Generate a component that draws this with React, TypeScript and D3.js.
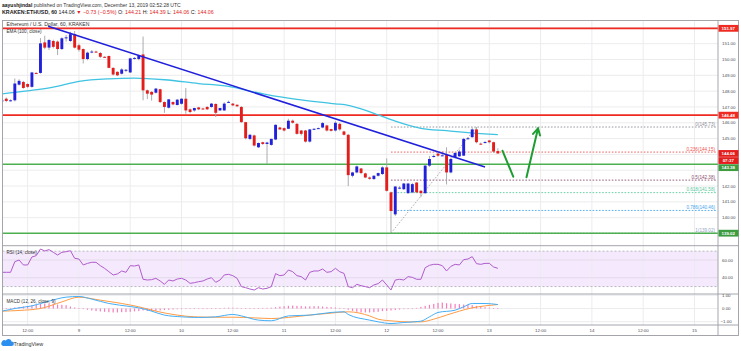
import React from "react";
import * as d3 from "d3";

// hourly ETHUSD bars, first bar = Dec 8 06:00 UTC (hour -18 relative to Dec 9 00:00)
const firstHour = -18;

const opens = [
  147.35, 147.52, 147.4, 147.42, 148.41, 148.58, 148.45, 148.27, 149.15, 149.15,
  151.08, 150.75, 151.17, 151.13, 150.66, 151.36, 151.17, 151.6, 150.9, 150.66,
  150.03, 150.48, 150.5, 150.41, 150.17, 150.22, 149.47, 149.22, 149.1, 149.3,
  149.18, 150.08, 150.03, 150.32, 148.05, 147.95, 147.9, 148.12, 147.31, 146.95,
  147.31, 147.12, 147.2, 147.52, 146.85, 146.78, 146.97, 146.9, 147.0, 147.0,
  147.19, 146.78, 146.78, 147.3, 147.21, 147.14, 147.0, 146.04, 144.98, 145.2,
  144.45, 144.77, 144.66, 144.6, 144.94, 145.7, 145.66, 145.62, 146.13, 145.93,
  145.51, 145.51, 144.81, 145.6, 145.64, 145.7, 145.83, 145.6, 145.51, 145.93,
  145.45, 145.24, 142.65, 142.86, 143.11, 142.8, 142.54, 142.44, 142.65, 142.76,
  143.18, 141.6, 140.21, 141.88, 141.8, 141.55, 141.6, 142.22, 141.7, 141.55,
  143.29, 143.85, 144.05, 143.92, 143.96, 142.86, 143.82, 143.88, 143.92, 145.0,
  145.09, 145.58, 144.68, 144.74, 144.88, 144.77, 144.21,
];
const highs = [
  147.5, 147.6, 147.48, 148.8, 148.75, 148.65, 148.5, 149.22, 149.2, 151.35,
  151.5, 151.3, 151.25, 151.2, 151.4, 151.55, 151.75, 151.8, 151.0, 150.7,
  150.5, 150.6, 150.55, 150.48, 150.2, 150.25, 149.5, 149.25, 149.45, 149.4,
  150.1, 150.15, 150.3, 151.45, 148.1, 148.0, 148.2, 148.15, 147.35, 147.5,
  147.35, 147.5, 147.55, 148.2, 146.9, 146.95, 147.0, 146.95, 147.05, 147.25,
  147.22, 146.95, 147.3, 147.4, 147.25, 147.15, 147.05, 146.05, 145.3, 145.25,
  144.75, 144.8, 144.8, 145.0, 145.9, 145.75, 145.7, 146.25, 146.2, 145.98,
  145.55, 145.55, 145.6, 145.65, 145.7, 146.05, 145.88, 145.62, 146.1, 146.0,
  145.5, 145.3, 142.9, 143.3, 143.15, 142.85, 142.6, 142.7, 142.85, 143.25,
  143.75, 141.65, 142.0, 142.0, 142.2, 142.2, 142.2, 142.25, 141.75, 143.35,
  143.9, 144.0, 144.1, 144.2, 144.45, 143.8, 144.15, 144.3, 145.05, 145.1,
  145.7, 145.73, 144.75, 144.85, 144.9, 144.8, 144.39,
];
const lows = [
  147.3, 147.3, 147.35, 147.35, 148.35, 148.15, 148.2, 148.22, 149.1, 149.1,
  150.65, 150.6, 150.7, 150.28, 150.6, 151.13, 151.1, 150.7, 150.5, 149.75,
  149.95, 150.4, 150.42, 150.1, 150.1, 149.45, 149.0, 148.95, 149.05, 149.2,
  149.15, 150.0, 149.95, 147.42, 147.5, 147.4, 147.85, 147.25, 146.63, 146.9,
  147.1, 147.1, 147.15, 146.57, 146.6, 146.7, 146.8, 146.85, 146.8, 146.95,
  146.36, 146.75, 146.75, 147.25, 147.05, 147.0, 146.0, 144.95, 144.9, 144.5,
  144.4, 144.6, 143.4, 144.55, 144.9, 145.55, 145.45, 145.6, 145.95, 145.25,
  145.2, 144.75, 144.75, 145.55, 145.6, 145.65, 145.45, 145.45, 145.45, 145.5,
  145.2, 142.0, 142.55, 142.8, 142.75, 142.5, 142.4, 142.4, 142.6, 142.7,
  141.65, 139.02, 140.1, 141.8, 141.75, 141.5, 141.55, 141.55, 141.3, 141.5,
  143.2, 143.8, 143.85, 143.9, 142.1, 142.8, 143.75, 143.85, 143.9, 144.95,
  145.05, 144.7, 144.6, 144.7, 144.7, 144.1, 144.06,
];
const closes = [
  147.42, 147.38, 147.42, 148.48, 148.65, 148.2, 148.27, 149.18, 149.12, 151.02,
  150.75, 151.23, 150.8, 150.66, 151.34, 151.4, 151.6, 150.75, 150.62, 150.03,
  150.43, 150.5, 150.48, 150.17, 150.15, 149.47, 149.05, 149.0, 149.37, 149.35,
  150.07, 150.1, 150.28, 148.05, 147.84, 147.78, 148.16, 147.31, 147.0, 147.48,
  147.16, 147.46, 147.52, 146.78, 146.68, 146.93, 146.85, 146.88, 146.85, 147.21,
  146.63, 146.93, 147.21, 147.32, 147.1, 147.04, 146.04, 145.02, 145.24, 144.56,
  144.72, 144.66, 144.75, 144.98, 145.87, 145.58, 145.51, 146.13, 146.0, 145.3,
  145.3, 144.81, 145.58, 145.62, 145.66, 145.98, 145.51, 145.49, 146.0, 145.58,
  145.24, 142.69, 142.86, 143.24, 142.82, 142.54, 142.46, 142.65, 142.82, 143.18,
  141.7, 140.42, 141.97, 141.9, 142.16, 142.16, 142.12, 141.6, 141.55, 143.29,
  143.71, 143.9, 143.92, 143.94, 142.86, 143.71, 144.09, 144.18, 144.98, 145.02,
  145.58, 144.77, 144.66, 144.78, 144.77, 144.18, 144.06,
];

const rsiValues = [
  46.1, 46.1, 46.1, 58.1, 60, 54.4, 54.4, 63.4, 64.9, 72.4,
  70.2, 71.7, 68.7, 65.6, 68.7, 69.4, 70.5, 61.9, 61.1, 54.4,
  56.2, 57.4, 57.4, 53.6, 50.6, 46.8, 43.1, 44.2, 47.6, 46.1,
  53.6, 53.2, 54.4, 38.2, 37.4, 37.8, 39.3, 36.3, 32.5, 37.4,
  36.3, 38.5, 39.3, 37.4, 33.6, 34.4, 35.5, 36.3, 38.5, 40,
  34.8, 37.4, 43.1, 43.8, 42.3, 39.3, 29.9, 28.7, 27.2, 26.1,
  28.7, 27.2, 28, 29.9, 44.6, 42.3, 43.1, 48.7, 46.8, 42.3,
  41.2, 37.4, 46.1, 47.6, 47.6, 49.8, 46.1, 46.8, 50.6, 46.8,
  44.9, 29.9, 28.7, 32.5, 31, 29.9, 28.7, 31.8, 33.3, 37.4,
  31.8, 26.1, 37.4, 38.2, 37.4, 41.2, 40.4, 38.2, 38.2, 51.3,
  54, 55.1, 55.1, 53.6, 47.6, 52.8, 55.1, 54.4, 60.4, 61.1,
  63.8, 55.9, 55.1, 56.2, 56.2, 52.1, 50.6,
];

const macdHist = [
  0, 0.02, 0.05, 0.08, 0.12, 0.15, 0.18, 0.25, 0.28, 0.35,
  0.38, 0.38, 0.36, 0.3, 0.28, 0.25, 0.15, 0.08, 0.02, -0.05,
  -0.1, -0.15, -0.2, -0.22, -0.25, -0.28, -0.3, -0.3, -0.28, -0.27,
  -0.25, -0.22, -0.2, -0.15, -0.18, -0.2, -0.18, -0.15, -0.12, -0.1,
  -0.08, -0.06, -0.05, -0.04, -0.03, -0.03, -0.02, -0.01, 0, 0.02,
  0.03, 0.04, 0.05, 0.06, 0.06, 0.05, 0.03, 0.02, 0.02, 0.03,
  0.04, 0.05, 0.05, 0.06, 0.1, 0.14, 0.17, 0.2, 0.22, 0.2,
  0.18, 0.16, 0.17, 0.18, 0.17, 0.15, 0.12, 0.1, 0.08, 0.05,
  0.02, -0.1, -0.18, -0.25, -0.3, -0.3, -0.3, -0.28, -0.25, -0.2,
  -0.18, -0.15, -0.12, -0.08, -0.05, -0.03, 0, 0.05, 0.12, 0.2,
  0.28, 0.35, 0.42, 0.45, 0.4, 0.38, 0.35, 0.33, 0.3, 0.28,
  0.25, 0.2, 0.15, 0.1, 0.06, 0.03, 0.01,
];

// EMA(100) read at a few hours
const emaHours = [-18, -12, -6, 0, 7, 13, 20, 28, 35, 40, 44, 51, 60, 63, 66, 70, 74, 80, 86, 91, 98];
const emaValues = [147.83, 148.02, 148.25, 148.62, 148.78, 148.82, 148.72, 148.48, 148.3, 148.0, 147.78, 147.48, 147.2, 147.1, 146.88, 146.5, 146.1, 145.65, 145.5, 145.38, 145.25];

const macdHours = [-18, -15, -11, -7, -3, 0, 3, 7, 12, 14, 17, 20, 24, 28, 32, 36, 38, 42, 45, 49, 54, 59, 62, 63, 68, 70, 73, 76, 80, 82, 84, 88, 90, 92, 95, 98];
const macdValues = [-0.2, 0, 0.2, 0.56, 0.86, 0.91, 0.71, 0.38, 0.15, 0.05, -0.2, -0.5, -0.63, -0.68, -0.63, -0.45, -0.56, -0.88, -0.93, -0.56, -0.5, -0.3, -0.25, -0.45, -0.88, -1.01, -1.14, -1.06, -0.96, -0.63, -0.3, -0.13, 0.13, 0.38, 0.38, 0.3];
const signalHours = [-18, -14, -9, -4, 0, 5, 10, 14, 18, 23, 27, 32, 36, 41, 45, 49, 54, 59, 63, 68, 70, 74, 77, 80, 83, 86, 89, 92, 95, 98];
const signalValues = [-0.2, -0.15, 0, 0.5, 0.86, 0.63, 0.38, 0.13, -0.2, -0.5, -0.63, -0.66, -0.66, -0.71, -0.76, -0.68, -0.5, -0.35, -0.25, -0.56, -0.81, -0.96, -1.01, -1.01, -0.81, -0.5, -0.2, 0.05, 0.2, 0.3];

// drawings
const trendHours = [-7.2, 95];
const trendPrices = [152.1, 143.2];
const resistanceLevels = [151.97, 146.48];
const supportLevels = [143.38, 139.02];
const fibHigh = 145.73;
const fibLow = 139.02;
const fibLowHour = 73;
const fibHighHour = 93;
const fibRatios = [0, 0.236, 0.5, 0.618, 0.786, 1];
const fibColors = ["#8d9099", "#ef5350", "#8a4b6c", "#52c99c", "#46a6ee", "#93a5bf"];
const arrowDownHours = [99.1, 101.6];
const arrowDownPrices = [144.23, 142.59];
const arrowUpHours = [104.7, 107.4];
const arrowUpPrices = [142.55, 145.65];

const priceLabels = [140, 141, 142, 145, 146, 147, 148, 149, 150, 151];
const rsiLabels = [60, 40];
const macdLabels = [1, 0, -1];
const lastPrice = 144.06;
const countdown = "07:37";

const HOUR = 3600000;
const dec9 = Date.UTC(2019, 11, 9);
const at = (h: number) => new Date(dec9 + h * HOUR);

const FONT = "Liberation Sans, Arial, sans-serif";
const UP = "#2121dc";
const DOWN = "#e31c1c";
const RED_LINE = "#ee2a22";
const GREEN_LINE = "#4caf50";
const FRAME = "#9a9ca3";
const GRID = "#ececee";
const TXT = "#4a4c52";

export default function App() {
  const L = 2.5, R = 718, AR = 738.5;
  const topY = 20.5, mainBot = 245.7, rsiBot = 294, macdBot = 325, botY = 335.5;

  const x = d3.scaleUtc().domain([at(-18), at(149.5)]).range([2, R]);
  const y = d3.scaleLinear().domain([139, 151]).range([233.5, 43.67]);
  const yRsi = d3.scaleLinear().domain([40, 60]).range([277.7, 260]);
  const yMacd = d3.scaleLinear().domain([-1, 1]).range([321.7, 295.3]);

  const bars = closes.map((c, i) => ({
    t: at(firstHour + i), o: opens[i], h: highs[i], l: lows[i], c,
    rsi: rsiValues[i], hist: macdHist[i],
  }));

  const timeTicks = d3.utcHour.every(12)!.range(at(-12), at(145));
  const tickLabel = (d: Date) => (d.getUTCHours() === 12 ? "12:00" : String(d.getUTCDate()));

  const ema = d3.line<number>().x((h) => x(at(h))).y((_, i) => y(emaValues[i])).curve(d3.curveMonotoneX)(emaHours)!;
  const rsiPath = d3.line<typeof bars[0]>().x((d) => x(d.t)).y((d) => yRsi(d.rsi))(bars)!;
  const macdPath = d3.line<number>().x((h) => x(at(h))).y((_, i) => yMacd(macdValues[i])).curve(d3.curveMonotoneX)(macdHours)!;
  const sigPath = d3.line<number>().x((h) => x(at(h))).y((_, i) => yMacd(signalValues[i])).curve(d3.curveMonotoneX)(signalHours)!;

  const bw = 2.9;

  // price axis badges, pushed down when they overlap
  const badgeH = 6.8;
  const rawBadges = [
    { y: y(resistanceLevels[0]), text: resistanceLevels[0].toFixed(2), fill: RED_LINE },
    { y: y(resistanceLevels[1]), text: resistanceLevels[1].toFixed(2), fill: RED_LINE },
    { y: y(lastPrice), text: lastPrice.toFixed(2), fill: DOWN },
    { y: y(lastPrice) + badgeH, text: countdown, fill: DOWN },
    { y: y(supportLevels[0]), text: supportLevels[0].toFixed(2), fill: "#3d9b40" },
    { y: y(supportLevels[1]), text: supportLevels[1].toFixed(2), fill: "#3d9b40" },
  ].sort((a, b) => a.y - b.y);
  const badges: typeof rawBadges = [];
  rawBadges.forEach((b) => {
    const prev = badges[badges.length - 1];
    const yy = prev && b.y < prev.y + badgeH + 0.3 ? prev.y + badgeH + 0.3 : b.y;
    badges.push({ ...b, y: yy });
  });

  const fibX0 = x(at(fibLowHour));
  const fibX1 = R - 1;

  // arrow head geometry
  const tipX = x(at(arrowUpHours[1]));
  const tipY = y(arrowUpPrices[1]);
  const baseX = x(at(arrowUpHours[0]));
  const baseY = y(arrowUpPrices[0]);
  const ang = Math.atan2(tipY - baseY, tipX - baseX);
  const headLen = 7.5;
  const h1 = [tipX - headLen * Math.cos(ang - 0.5), tipY - headLen * Math.sin(ang - 0.5)];
  const h2 = [tipX - headLen * Math.cos(ang + 0.5), tipY - headLen * Math.sin(ang + 0.5)];

  return (
    <svg width={741} height={351} style={{ position: "fixed", left: 0, top: 0, background: "#fff" }} fontFamily={FONT}>
      <defs>
        <clipPath id="mainClip"><rect x={L} y={topY} width={R - L} height={mainBot - topY} /></clipPath>
        <clipPath id="rsiClip"><rect x={L} y={mainBot} width={R - L} height={rsiBot - mainBot} /></clipPath>
        <clipPath id="macdClip"><rect x={L} y={rsiBot} width={R - L} height={macdBot - rsiBot} /></clipPath>
      </defs>

      {/* header */}
      <text x={2} y={7} fontSize={5.0} fill="#333">
        <tspan fontWeight="bold" fill="#111">aayushjindal</tspan>
        <tspan> published on TradingView.com, December 13, 2019 02:52:28 UTC</tspan>
      </text>
      <text x={2} y={14.4} fontSize={5.3} fill="#222">
        <tspan fontWeight="bold">KRAKEN:ETHUSD, 60</tspan>
        <tspan> 144.06 </tspan>
        <tspan fill={DOWN}>▼ −0.73 (−0.5%)</tspan>
        <tspan> O: </tspan><tspan fill={DOWN}>144.21</tspan>
        <tspan> H: </tspan><tspan fill={DOWN}>144.39</tspan>
        <tspan> L: </tspan><tspan fill={DOWN}>144.06</tspan>
        <tspan> C: </tspan><tspan fill={DOWN}>144.06</tspan>
      </text>

      {/* rsi band */}
      <rect x={L} y={yRsi(70)} width={R - L} height={yRsi(30) - yRsi(70)} fill="#f4e9fd" />

      {/* grid */}
      <g stroke={GRID} strokeWidth={1}>
        {timeTicks.map((d, i) => (
          <line key={"vg" + i} x1={x(d)} x2={x(d)} y1={topY} y2={macdBot} />
        ))}
        {d3.range(139, 153).map((p) => (
          <line key={"hg" + p} x1={L} x2={R} y1={y(p)} y2={y(p)} />
        ))}
        {rsiLabels.map((v) => (
          <line key={"rg" + v} x1={L} x2={R} y1={yRsi(v)} y2={yRsi(v)} stroke="#e3dbea" />
        ))}
        {macdLabels.map((v) => (
          <line key={"mg" + v} x1={L} x2={R} y1={yMacd(v)} y2={yMacd(v)} />
        ))}
      </g>
      {[70, 30].map((v) => (
        <line key={"rb" + v} x1={L} x2={R} y1={yRsi(v)} y2={yRsi(v)} stroke="#a9a9b0" strokeWidth={0.8} strokeDasharray="2,2" />
      ))}

      {/* main pane */}
      <g clipPath="url(#mainClip)">
        {fibRatios.map((r, i) => {
          const p = fibHigh - r * (fibHigh - fibLow);
          return (
            <line key={"fib" + r} x1={fibX0} x2={fibX1} y1={y(p)} y2={y(p)} stroke={fibColors[i]} strokeWidth={0.9} strokeDasharray="1.6,1.6" />
          );
        })}
        <line x1={fibX0} y1={y(fibLow)} x2={x(at(fibHighHour))} y2={y(fibHigh)} stroke="#a5a5a8" strokeWidth={0.9} strokeDasharray="1.6,1.6" />
        {fibRatios.map((r, i) => {
          const p = fibHigh - r * (fibHigh - fibLow);
          return (
            <text key={"fibt" + r} x={fibX1 - 2} y={y(p) - 1.3} fontSize={4.6} fill={fibColors[i]} textAnchor="end">
              {`${r}(${p.toFixed(2)})`}
            </text>
          );
        })}

        {resistanceLevels.map((p) => (
          <line key={"res" + p} x1={L} x2={R} y1={y(p)} y2={y(p)} stroke={RED_LINE} strokeWidth={1.6} />
        ))}
        {supportLevels.map((p) => (
          <line key={"sup" + p} x1={L} x2={R} y1={y(p)} y2={y(p)} stroke={GREEN_LINE} strokeWidth={1.5} />
        ))}

        <path d={ema} fill="none" stroke="#3fc3e2" strokeWidth={1.3} />

        {bars.map((d, i) => {
          const cx = x(d.t);
          const top = y(Math.max(d.o, d.c));
          const bot = y(Math.min(d.o, d.c));
          return (
            <g key={"c" + i}>
              <line x1={cx} x2={cx} y1={y(d.h)} y2={y(d.l)} stroke="#a3a3a8" strokeWidth={0.9} />
              <rect x={cx - bw / 2} y={top} width={bw} height={Math.max(1, bot - top)} fill={d.c >= d.o ? UP : DOWN} />
            </g>
          );
        })}

        <line x1={x(at(trendHours[0]))} y1={y(trendPrices[0])} x2={x(at(trendHours[1]))} y2={y(trendPrices[1])} stroke="#1f1fdc" strokeWidth={1.5} />

        <g stroke="#1e9e32" strokeWidth={2} fill="none" strokeLinecap="round">
          <line x1={x(at(arrowDownHours[0]))} y1={y(arrowDownPrices[0])} x2={x(at(arrowDownHours[1]))} y2={y(arrowDownPrices[1])} />
          <line x1={baseX} y1={baseY} x2={tipX} y2={tipY} />
          <polyline points={`${h1[0]},${h1[1]} ${tipX},${tipY} ${h2[0]},${h2[1]}`} strokeLinejoin="round" />
        </g>
      </g>

      {/* rsi pane */}
      <g clipPath="url(#rsiClip)">
        <path d={rsiPath} fill="none" stroke="#b05ccb" strokeWidth={1} />
      </g>

      {/* macd pane */}
      <g clipPath="url(#macdClip)">
        {bars.map((d, i) => (
          <rect key={"h" + i} x={x(d.t) - 0.6} width={1.2}
            y={Math.min(yMacd(0), yMacd(d.hist))} height={Math.max(0.6, Math.abs(yMacd(d.hist) - yMacd(0)))}
            fill="#f77bbb" />
        ))}
        <path d={sigPath} fill="none" stroke="#ff9b45" strokeWidth={1} />
        <path d={macdPath} fill="none" stroke="#45aef5" strokeWidth={1} />
      </g>

      {/* pane legends */}
      <g fontSize={5.1} fill="#333">
        <text x={6.5} y={26.3}>Ethereum / U.S. Dollar, 60, KRAKEN</text>
        <text x={6.5} y={33.3} fontSize={4.6}>EMA (100, close)</text>
        <text x={6.5} y={253.5} fontSize={4.6}>RSI (14, close)</text>
        <text x={6.5} y={302.5} fontSize={4.6}>MACD (12, 26, close, 9)</text>
      </g>

      {/* frame */}
      <g stroke={FRAME} strokeWidth={0.9} fill="none">
        <rect x={L} y={topY} width={AR - L} height={botY - topY} />
        <line x1={R} x2={R} y1={topY} y2={botY} />
        <line x1={L} x2={AR} y1={mainBot} y2={mainBot} />
        <line x1={L} x2={AR} y1={rsiBot} y2={rsiBot} />
        <line x1={L} x2={AR} y1={macdBot} y2={macdBot} />
      </g>

      {/* axis labels */}
      <g fontSize={4.4} fill={TXT}>
        {priceLabels.map((p) => (
          <text key={"pl" + p} x={722} y={y(p) + 1.6}>{p.toFixed(2)}</text>
        ))}
        {rsiLabels.map((v) => (
          <text key={"rl" + v} x={722} y={yRsi(v) + 1.6}>{v.toFixed(2)}</text>
        ))}
        {macdLabels.map((v) => (
          <text key={"ml" + v} x={v < 0 ? 720.5 : 722} y={yMacd(v) + 1.6}>{v.toFixed(2).replace("-", "−")}</text>
        ))}
        {timeTicks.map((d, i) => (
          <text key={"tl" + i} x={x(d)} y={332.3} textAnchor="middle">{tickLabel(d)}</text>
        ))}
      </g>

      {/* badges */}
      {badges.map((b, i) => (
        <g key={"b" + i}>
          <rect x={R + 0.5} y={b.y - badgeH / 2} width={AR - R - 0.5} height={badgeH} fill={b.fill} />
          <text x={(R + AR) / 2} y={b.y + 1.6} fontSize={4.4} fill="#fff" textAnchor="middle" fontWeight="bold">{b.text}</text>
        </g>
      ))}

      {/* logo */}
      <path d="M3,346 h8.6 a2.3,2.3 0 0 0 0,-4.6 a3.2,3.2 0 0 0 -5.8,-0.8 a2.4,2.4 0 0 0 -2.8,5.4 z" fill="#2b8ff0" />
      <text x={13.5} y={345.6} fontSize={5.4} fill="#333">TradingView</text>
    </svg>
  );
}
